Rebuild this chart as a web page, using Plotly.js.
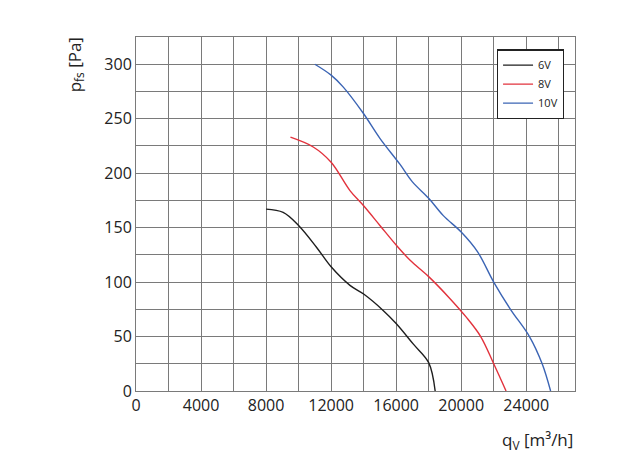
<!DOCTYPE html>
<html>
<head>
<meta charset="utf-8">
<script src="https://cdn.plot.ly/plotly-3.0.1.min.js"></script>
<style>html,body{margin:0;padding:0;background:#fff;}#chart{width:639px;height:476px;}</style>
</head>
<body>
<div id="chart"></div>
<script>
// Flow rate qV [m³/h] and static pressure pfs [Pa]
const q6  = [8000, 9050, 10000, 11100, 12000, 13160, 14000, 15200, 16000, 17060, 18000, 18400];
const p6  = [167, 164, 152, 132, 114, 97, 89, 74, 62, 43, 26, 0];
const q8  = [9500, 10900, 12000, 13160, 14000, 15000, 16000, 16860, 18000, 19300, 20300, 21200, 22000, 22760];
const p8  = [233, 224, 210, 184, 170, 152, 134, 120, 105, 85, 68, 50, 25, 0];
const q10 = [11000, 12000, 12750, 13980, 15000, 16240, 17000, 18000, 18900, 20000, 21000, 22000, 23030, 24200, 24980, 25500];
const p10 = [300, 290, 279, 255, 232, 208, 192, 177, 161, 146, 128, 100, 75, 50, 25, 0];
const seriesNames = ['6V', '8V', '10V'];
const xTicks = [0, 4000, 8000, 12000, 16000, 20000, 24000];
const yTicks = [0, 50, 100, 150, 200, 250, 300];

const colors = ['#1e1e1e', '#e2323c', '#3b64b4'];
const xs = [q6, q8, q10], ys = [p6, p8, p10];
const traces = seriesNames.map((n, i) => ({
  type: 'scatter', mode: 'lines', name: n,
  x: xs[i], y: ys[i],
  line: {color: colors[i], width: 1.4, shape: 'spline', smoothing: 1}
}));

const grid = '#7a7a7a';
const fam = 'Open Sans, sans-serif';
const font = {family: fam, size: 16, color: '#222'};
const layout = {
  width: 639, height: 476,
  margin: {l: 136, r: 64, t: 37, b: 85},
  paper_bgcolor: '#fff', plot_bgcolor: '#fff',
  font: font,
  showlegend: true,
  legend: {
    x: 0.822, y: 0.965, xanchor: 'left', yanchor: 'top',
    bgcolor: '#fff', bordercolor: '#222', borderwidth: 1.2,
    font: {family: fam, size: 11, color: '#222'},
    tracegroupgap: 0
  },
  xaxis: {
    range: [0, 27000], tickvals: xTicks, ticktext: xTicks.map(String),
    showgrid: true, gridcolor: grid, gridwidth: 1,
    minor: {dtick: 2000, tick0: 0, showgrid: true, gridcolor: grid, gridwidth: 1, ticks: ''},
    showline: true, linecolor: grid, linewidth: 1, mirror: true,
    zeroline: false, ticks: '', tickfont: font, fixedrange: true
  },
  yaxis: {
    range: [0, 325], tickvals: yTicks, ticktext: yTicks.map(String),
    showgrid: true, gridcolor: grid, gridwidth: 1,
    minor: {dtick: 25, tick0: 0, showgrid: true, gridcolor: grid, gridwidth: 1, ticks: ''},
    showline: true, linecolor: grid, linewidth: 1, mirror: true,
    zeroline: false, ticks: '', tickfont: font, fixedrange: true
  },
  annotations: [
    {text: 'p<sub>fs</sub> [Pa]', xref: 'paper', yref: 'paper', x: -0.139, y: 1.006,
     xanchor: 'center', yanchor: 'top', textangle: -90, showarrow: false,
     font: {family: fam, size: 17, color: '#222'}},
    {text: 'q<sub>V</sub> [m³/h]', xref: 'paper', yref: 'paper', x: 1.0, y: -0.1,
     xanchor: 'right', yanchor: 'top', showarrow: false,
     font: {family: fam, size: 17, color: '#222'}}
  ]
};
Plotly.newPlot('chart', traces, layout, {displayModeBar: false, staticPlot: true});
</script>
</body>
</html>
